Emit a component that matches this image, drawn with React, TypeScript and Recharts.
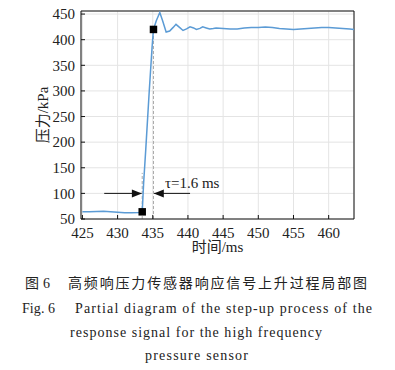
import React from 'react'
import {
  ComposedChart,
  Line,
  Scatter,
  XAxis,
  YAxis,
  ZAxis,
  CartesianGrid,
  ReferenceLine,
  ReferenceDot,
} from 'recharts'

const timeMs = [
  425, 426, 427, 428, 429, 430, 431, 432, 433, 433.5, 433.7, 434.0, 434.5, 434.9,
  435.1, 435.5, 436.0, 436.4, 436.9, 437.4, 437.9, 438.3, 438.8, 439.3, 439.8,
  440.3, 440.8, 441.2, 441.7, 442.1, 442.6, 443.1, 443.6, 444, 445, 446, 447, 448,
  449, 450, 451, 452, 453, 454, 455, 456, 457, 458, 459, 460, 461, 462, 463, 463.6,
]
const pressureKPa = [
  64, 64, 64.5, 65, 64, 63, 62, 62, 62.5, 63, 120, 185, 300, 385,
  420, 437, 453, 437, 415, 417, 424, 430, 424, 418, 421,
  425, 423, 420, 422, 425, 423, 421, 422, 423, 422, 421, 421, 423,
  424, 424, 425, 424, 422, 421, 420, 421, 422, 423, 424, 424, 423, 422, 421, 420,
]

// start / end of the rise (tau = 1.6 ms)
const markTimes = [433.5, 435.1]
const markValues = [64, 420]

const xTicks = [425, 430, 435, 440, 445, 450, 455, 460]
const yTicks = [50, 100, 150, 200, 250, 300, 350, 400, 450]

const rows = timeMs.map((t, i) => ({ t, p: pressureKPa[i] }))
const marks = markTimes.map((t, i) => ({ t, p: markValues[i] }))

const SERIF = "'Liberation Serif', 'Times New Roman', 'Noto Sans CJK SC', serif"
const CJK = "'Noto Sans CJK SC', 'Liberation Serif', serif"

const arrowHead = (dir: number) => (props: any) => {
  const { cx, cy } = props
  return (
    <path
      d={`M${cx},${cy} L${cx - dir * 10},${cy - 4} L${cx - dir * 10},${cy + 4} Z`}
      fill="#111"
    />
  )
}

const tickStyle = { fontSize: 15, fontFamily: SERIF, fill: '#222' }

export default function App() {
  return (
    <div style={{ position: 'absolute', left: 0, top: 0, width: 395, height: 370, background: '#fff' }}>
      <ComposedChart
        width={395}
        height={260}
        data={rows}
        margin={{ top: 11, right: 41, left: 5, bottom: 5 }}
      >
        <CartesianGrid stroke="#e4e4e4" />
        <XAxis
          dataKey="t"
          type="number"
          domain={[424.8, 463.6]}
          ticks={xTicks}
          height={36}
          tickSize={-4}
          tickMargin={12}
          tick={tickStyle}
          stroke="#111"
          allowDataOverflow
          label={{ value: '时间/ms', position: 'insideBottom', offset: 3, fontSize: 15, fontFamily: SERIF, fill: '#222' }}
        />
        <YAxis
          type="number"
          domain={[50, 456]}
          ticks={yTicks}
          width={76}
          tickSize={-4}
          tickMargin={10}
          tick={tickStyle}
          stroke="#111"
          allowDataOverflow
          label={{ value: '压力/kPa', angle: -90, position: 'center', fontSize: 15, fontFamily: SERIF, fill: '#222' }}
        />
        <ZAxis range={[56, 56]} />
        <ReferenceLine y={456} stroke="#111" />
        <ReferenceLine x={463.6} stroke="#111" />
        <ReferenceLine
          segment={[{ x: 433.5, y: 50 }, { x: 433.5, y: 140 }]}
          stroke="#aaa"
          strokeDasharray="3 2"
        />
        <ReferenceLine
          segment={[{ x: 435.1, y: 50 }, { x: 435.1, y: 420 }]}
          stroke="#aaa"
          strokeDasharray="3 2"
        />
        <ReferenceLine segment={[{ x: 428.1, y: 100 }, { x: 433.4, y: 100 }]} stroke="#111" />
        <ReferenceLine segment={[{ x: 435.2, y: 100 }, { x: 440.3, y: 100 }]} stroke="#111" />
        <Line
          dataKey="p"
          type="linear"
          stroke="#5b9bd5"
          strokeWidth={1.5}
          dot={false}
          activeDot={false}
          isAnimationActive={false}
        />
        <Scatter data={marks} dataKey="p" shape="square" fill="#000" isAnimationActive={false} />
        <Scatter data={[{ t: 433.45, p: 100 }]} dataKey="p" shape={arrowHead(1)} isAnimationActive={false} />
        <Scatter data={[{ t: 435.15, p: 100 }]} dataKey="p" shape={arrowHead(-1)} isAnimationActive={false} />
        <ReferenceDot
          x={440.6}
          y={121}
          r={0}
          stroke="none"
          label={{ value: 'τ=1.6 ms', position: 'center', fontSize: 15, fontFamily: SERIF, fill: '#222' }}
        />
      </ComposedChart>
      <svg width={395} height={110} style={{ display: 'block' }}>
        <g fill="#222" fontSize={14}>
          <text x={25} y={28} fontFamily={CJK}>图</text>
          <text x={43} y={28} fontFamily={SERIF}>6</text>
          <text x={68} y={28} fontFamily={CJK} textLength={299} lengthAdjust="spacing">
            高频响压力传感器响应信号上升过程局部图
          </text>
          <text x={22} y={53} fontFamily={SERIF} textLength={33} lengthAdjust="spacing">Fig. 6</text>
          <text x={75} y={53} fontFamily={SERIF} textLength={297} lengthAdjust="spacing">
            Partial diagram of the step-up process of the
          </text>
          <text x={70} y={77} fontFamily={SERIF} textLength={252} lengthAdjust="spacing">
            response signal for the high frequency
          </text>
          <text x={145} y={100} fontFamily={SERIF} textLength={103} lengthAdjust="spacing">
            pressure sensor
          </text>
        </g>
      </svg>
    </div>
  )
}
